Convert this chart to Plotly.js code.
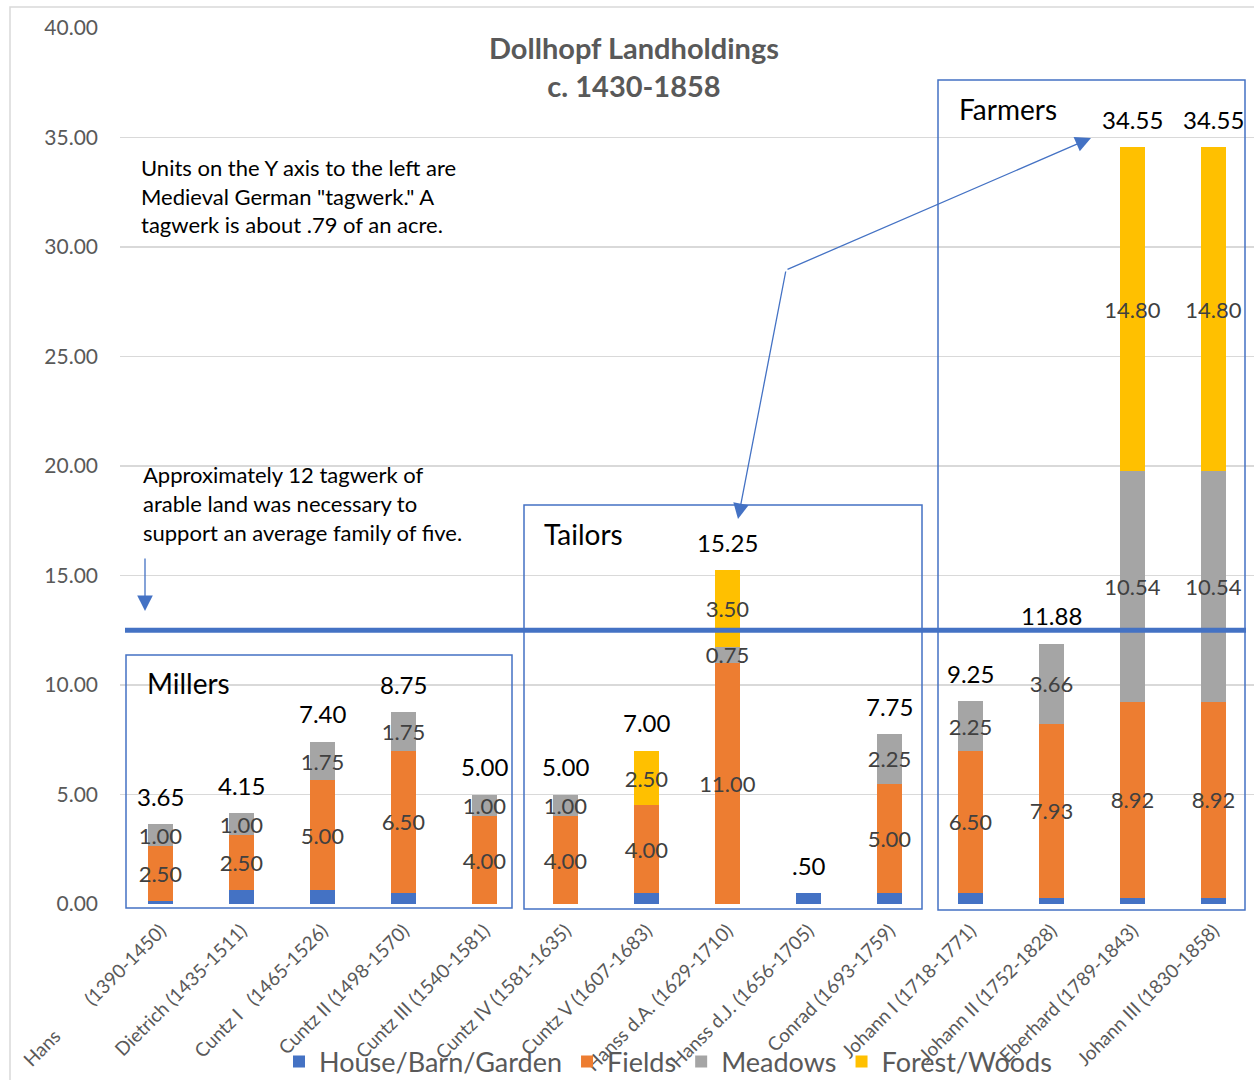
<!DOCTYPE html>
<html>
<head>
<meta charset="utf-8">
<script src="https://cdn.plot.ly/plotly-3.0.1.min.js"></script>
<style>html,body{margin:0;padding:0;background:#fff;}#chart{width:1254px;height:1080px;}</style>
</head>
<body>
<div id="chart"></div>
<script>
const categories = [
  'Hans\u00a0\u00a0\u00a0\u00a0\u00a0\u00a0\u00a0\u00a0\u00a0(1390-1450)',
  'Dietrich (1435-1511)',
  'Cuntz I\u00a0\u00a0\u00a0(1465-1526)',
  'Cuntz II (1498-1570)',
  'Cuntz III (1540-1581)',
  'Cuntz IV (1581-1635)',
  'Cuntz V (1607-1683)',
  'Hanss d.A. (1629-1710)',
  'Hanss d.J. (1656-1705)',
  'Conrad (1693-1759)',
  'Johann I (1718-1771)',
  'Johann II (1752-1828)',
  'Eberhard (1789-1843)',
  'Johann III (1830-1858)'
];
const house   = [0.15, 0.65, 0.65, 0.50, 0, 0, 0.50, 0, 0.50, 0.50, 0.50, 0.29, 0.29, 0.29];
const fields  = [2.50, 2.50, 5.00, 6.50, 4.00, 4.00, 4.00, 11.00, 0, 5.00, 6.50, 7.93, 8.92, 8.92];
const meadows = [1.00, 1.00, 1.75, 1.75, 1.00, 1.00, 0, 0.75, 0, 2.25, 2.25, 3.66, 10.54, 10.54];
const forest  = [0, 0, 0, 0, 0, 0, 2.50, 3.50, 0, 0, 0, 0, 14.80, 14.80];
const totalLabels = ['3.65','4.15','7.40','8.75','5.00','5.00','7.00','15.25','.50','7.75','9.25','11.88','34.55','34.55'];
const seriesNames = ['House/Barn/Garden', 'Fields', 'Meadows', 'Forest/Woods'];
const seriesColors = ['#4472C4', '#ED7D31', '#A5A5A5', '#FFC000'];

const FONT = 'Lato, "Open Sans", sans-serif';
const fmt = v => v > 0 ? v.toFixed(2) : '';

function barTrace(vals, i, showText) {
  return {
    type: 'bar', x: categories, y: vals, name: seriesNames[i],
    marker: {color: seriesColors[i], line: {width: 0}},
    text: showText ? vals.map(fmt) : vals.map(() => ''),
    textposition: 'inside', insidetextanchor: 'middle', textangle: 0,
    constraintext: 'none', cliponaxis: false,
    insidetextfont: {family: FONT, size: 22, color: '#404040'},
    hoverinfo: 'x+y+name'
  };
}
const data = [
  barTrace(house, 0, false),
  barTrace(fields, 1, true),
  barTrace(meadows, 2, true),
  barTrace(forest, 3, true)
];

const totals = categories.map((c, i) => house[i] + fields[i] + meadows[i] + forest[i]);

// pixel helpers for decorations (plot area: left 120, width 1134, bottom 904, height 876)
const PX = px => (px - 120) / 1134;
const PY = py => (904 - py) / 876;

const annotations = totals.map((t, i) => ({
  x: categories[i], y: t, xref: 'x', yref: 'y', text: totalLabels[i],
  showarrow: false, yanchor: 'middle', yshift: 28,
  font: {family: FONT, size: 24, color: '#000000'}
}));

function textLines(lines, px, pyFirst, step, size) {
  lines.forEach((ln, k) => annotations.push({
    xref: 'paper', yref: 'paper', x: PX(px), y: PY(pyFirst + k * step),
    xanchor: 'left', yanchor: 'middle', showarrow: false, text: ln,
    font: {family: FONT, size: size, color: '#000000'}
  }));
}
textLines(['Units on the Y axis to the left are', 'Medieval German "tagwerk." A', 'tagwerk is about .79 of an acre.'], 139, 167, 29, 22);
textLines(['Approximately 12 tagwerk of', 'arable land was necessary to', 'support an average family of five.'], 141, 474, 29, 22);
textLines(['Millers'], 145, 683, 0, 28);
textLines(['Tailors'], 542, 534, 0, 28);
textLines(['Farmers'], 957, 109, 0, 28);

function arrow(fromX, fromY, toX, toY) {
  annotations.push({
    xref: 'paper', yref: 'paper', x: PX(toX), y: PY(toY),
    ax: fromX - toX, ay: fromY - toY, axref: 'pixel', ayref: 'pixel',
    text: '', showarrow: true, arrowhead: 2, arrowsize: 2.4, arrowwidth: 1.3,
    arrowcolor: '#4472C4'
  });
}
arrow(145, 557, 145, 611);
arrow(786, 270, 1091, 138);
arrow(786, 270, 738, 519);

const boxLine = {color: '#4472C4', width: 1.5};
const shapes = [
  {type: 'rect', xref: 'paper', yref: 'paper', x0: PX(10), x1: PX(1262), y0: PY(1090), y1: PY(7),
   line: {color: '#D9D9D9', width: 1.5}, fillcolor: 'rgba(0,0,0,0)', layer: 'below'},
  {type: 'rect', xref: 'paper', yref: 'paper', x0: PX(126), x1: PX(512), y0: PY(908), y1: PY(655), line: boxLine},
  {type: 'rect', xref: 'paper', yref: 'paper', x0: PX(524), x1: PX(922), y0: PY(909), y1: PY(505), line: boxLine},
  {type: 'rect', xref: 'paper', yref: 'paper', x0: PX(938), x1: PX(1245), y0: PY(910), y1: PY(80), line: boxLine},
  {type: 'line', xref: 'paper', yref: 'y', x0: PX(125), x1: PX(1246), y0: 12.5, y1: 12.5,
   line: {color: '#4472C4', width: 5}}
];

const layout = {
  width: 1254, height: 1080,
  margin: {l: 120, r: 0, t: 28, b: 176},
  paper_bgcolor: '#ffffff', plot_bgcolor: '#ffffff',
  barmode: 'stack', bargap: 0.68,
  font: {family: FONT, color: '#595959'},
  title: {
    text: '<b>Dollhopf Landholdings<br>c. 1430-1858</b>',
    x: 634 / 1254, xanchor: 'center', xref: 'container',
    y: 1 - 59 / 1080, yanchor: 'middle', yref: 'container',
    font: {family: FONT, size: 29, color: '#595959'}
  },
  xaxis: {
    type: 'category', tickangle: -45, automargin: false,
    tickfont: {family: FONT, size: 19, color: '#595959'},
    showgrid: false, showline: false, zeroline: false, ticks: '', ticklabelstandoff: 11
  },
  yaxis: {
    range: [0, 40], dtick: 5, tickformat: '.2f', automargin: false,
    tickfont: {family: FONT, size: 21, color: '#595959'},
    gridcolor: '#D9D9D9', gridwidth: 1.5, zeroline: false, showline: false,
    ticks: '', ticklabelstandoff: 21
  },
  showlegend: true,
  legend: {
    orientation: 'h', xref: 'container', yref: 'container',
    x: 668 / 1254, xanchor: 'center', y: 1 - 1062 / 1080, yanchor: 'middle',
    bgcolor: 'rgba(0,0,0,0)', font: {family: FONT, size: 27, color: '#595959'},
    traceorder: 'normal'
  },
  annotations: annotations,
  shapes: shapes
};

Plotly.newPlot('chart', data, layout, {displayModeBar: false, staticPlot: true});
</script>
</body>
</html>
